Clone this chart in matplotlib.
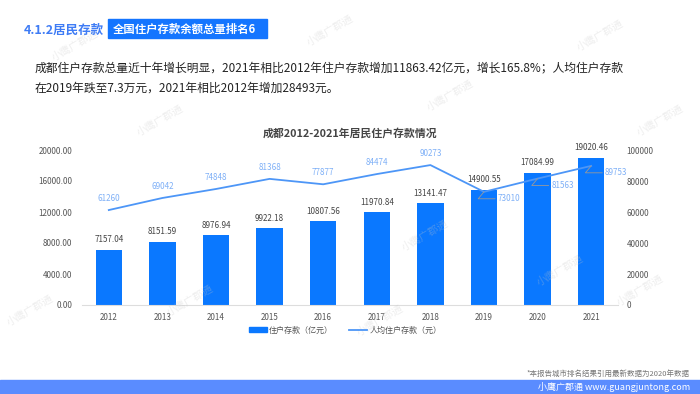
import matplotlib
matplotlib.use('Agg')
import matplotlib.pyplot as plt
from matplotlib.patches import Rectangle
from matplotlib.lines import Line2D

plt.rcParams['font.family'] = ['Noto Sans CJK SC', 'DejaVu Sans']

years = ['2012', '2013', '2014', '2015', '2016', '2017', '2018', '2019', '2020', '2021']
deposits = [7157.04, 8151.59, 8976.94, 9922.18, 10807.56, 11970.84, 13141.47, 14900.55, 17084.99, 19020.46]
per_capita = [61260, 69042, 74848, 81368, 77877, 84474, 90273, 73010, 81563, 89753]
left_ticks = [0, 4000, 8000, 12000, 16000, 20000]
right_ticks = [0, 20000, 40000, 60000, 80000, 100000]

bar_color = '#0a78ff'
line_color = '#4d96f7'
label_blue = '#7fb0f7'

W, H = 700, 394
fig = plt.figure(figsize=(7, 3.94), dpi=100)

# watermarks
for wx, wy in [(75, 45), (330, 30), (600, 35), (160, 120), (450, 95), (425, 235), (30, 310),
               (190, 300), (560, 270), (640, 290), (660, 120), (380, 320)]:
    fig.text(wx / W, 1 - wy / H, '小鹰广郡通', rotation=30, fontsize=7.5, color='#c8c8c8',
             alpha=0.3, ha='center', va='center', zorder=0)

# header
fig.text(24 / W, 1 - 30 / H, '4.1.2居民存款', fontsize=9, fontweight='bold', color='#3f7cf5',
         va='center', ha='left')
fig.patches.append(Rectangle((108 / W, 1 - 38 / H), 159 / W, 19 / H, transform=fig.transFigure,
                             color='#1475ff', zorder=1))
fig.text(113 / W, 1 - 29 / H, '全国住户存款余额总量排名6', fontsize=8.2, fontweight='bold',
         color='white', va='center', ha='left', zorder=2)

fig.text(35 / W, 1 - 68 / H, '成都住户存款总量近十年增长明显，2021年相比2012年住户存款增加11863.42亿元，增长165.8%；人均住户存款',
         fontsize=8.5, color='#222222', va='center', ha='left')
fig.text(35 / W, 1 - 88 / H, '在2019年跌至7.3万元，2021年相比2012年增加28493元。',
         fontsize=8.5, color='#222222', va='center', ha='left')

fig.text(350 / W, 1 - 133 / H, '成都2012-2021年居民住户存款情况', fontsize=7.8, fontweight='bold',
         color='#444444', ha='center', va='center')

# chart
ax = fig.add_axes([82 / W, 1 - 305 / H, 536 / W, 155 / H])
x = list(range(len(years)))
ax.bar(x, deposits, width=0.49, color=bar_color, zorder=2)
for xi, v in zip(x, deposits):
    ax.annotate(f'{v:.2f}', (xi, v), xytext=(0, 4), textcoords='offset points',
                ha='center', va='bottom', fontsize=5.8, color='#444444', zorder=4)
ax.set_xlim(-0.5, len(years) - 0.5)
ax.set_ylim(0, 20000)
ax.set_yticks(left_ticks)
ax.set_yticklabels([f'{t:.2f}' for t in left_ticks])
ax.set_xticks(x)
ax.set_xticklabels(years)
for s in ['top', 'right', 'left']:
    ax.spines[s].set_visible(False)
ax.spines['bottom'].set_color('#dddddd')
ax.tick_params(axis='both', length=0, labelsize=5.8, colors='#555555')
ax.tick_params(axis='x', pad=6)
ax.tick_params(axis='y', pad=7)
ax.patch.set_alpha(0)

ax2 = ax.twinx()
ax2.plot(x, per_capita, color=line_color, lw=1.3, zorder=3)
ax2.set_ylim(0, 100000)
ax2.set_yticks(right_ticks)
ax2.set_yticklabels([str(t) for t in right_ticks])
for s in ['top', 'right', 'left', 'bottom']:
    ax2.spines[s].set_visible(False)
ax2.tick_params(axis='y', length=0, labelsize=5.8, colors='#555555', pad=6)

for xi, v in zip(x, per_capita):
    if xi >= 7:
        ax2.annotate(str(v), (xi, v), xytext=(10, -5), textcoords='offset points',
                     ha='left', va='center', fontsize=5.8, color=label_blue,
                     arrowprops=dict(arrowstyle='-', color='#999999', lw=0.6,
                                     connectionstyle='angle,angleA=0,angleB=50,rad=0',
                                     shrinkA=0, shrinkB=0))
    else:
        ax2.annotate(str(v), (xi, v), xytext=(0, 5), textcoords='offset points',
                     ha='center', va='bottom', fontsize=5.8, color=label_blue)

# legend
handles = [Rectangle((0, 0), 1, 1, color=bar_color),
           Line2D([0], [0], color=line_color, lw=1.3)]
fig.legend(handles, ['住户存款（亿元）', '人均住户存款（元）'], loc='center',
           bbox_to_anchor=(345 / W, 1 - 330 / H), ncol=2, frameon=False, fontsize=5.8,
           handlelength=2.2, handleheight=0.5, columnspacing=2, handletextpad=0.3,
           labelcolor='#555555')

fig.text(690 / W, 1 - 374 / H, '*本报告城市排名结果引用最新数据为2020年数据', fontsize=5.4,
         color='#777777', ha='right', va='center')
fig.patches.append(Rectangle((0, 0), 1, 14 / H, transform=fig.transFigure, color='#5a8cff', zorder=1))
fig.text(690 / W, 1 - 387 / H, '小鹰广郡通 www.guangjuntong.com', fontsize=6.5, color='white',
         ha='right', va='center', zorder=2)

fig.savefig('out.png', dpi=100)
